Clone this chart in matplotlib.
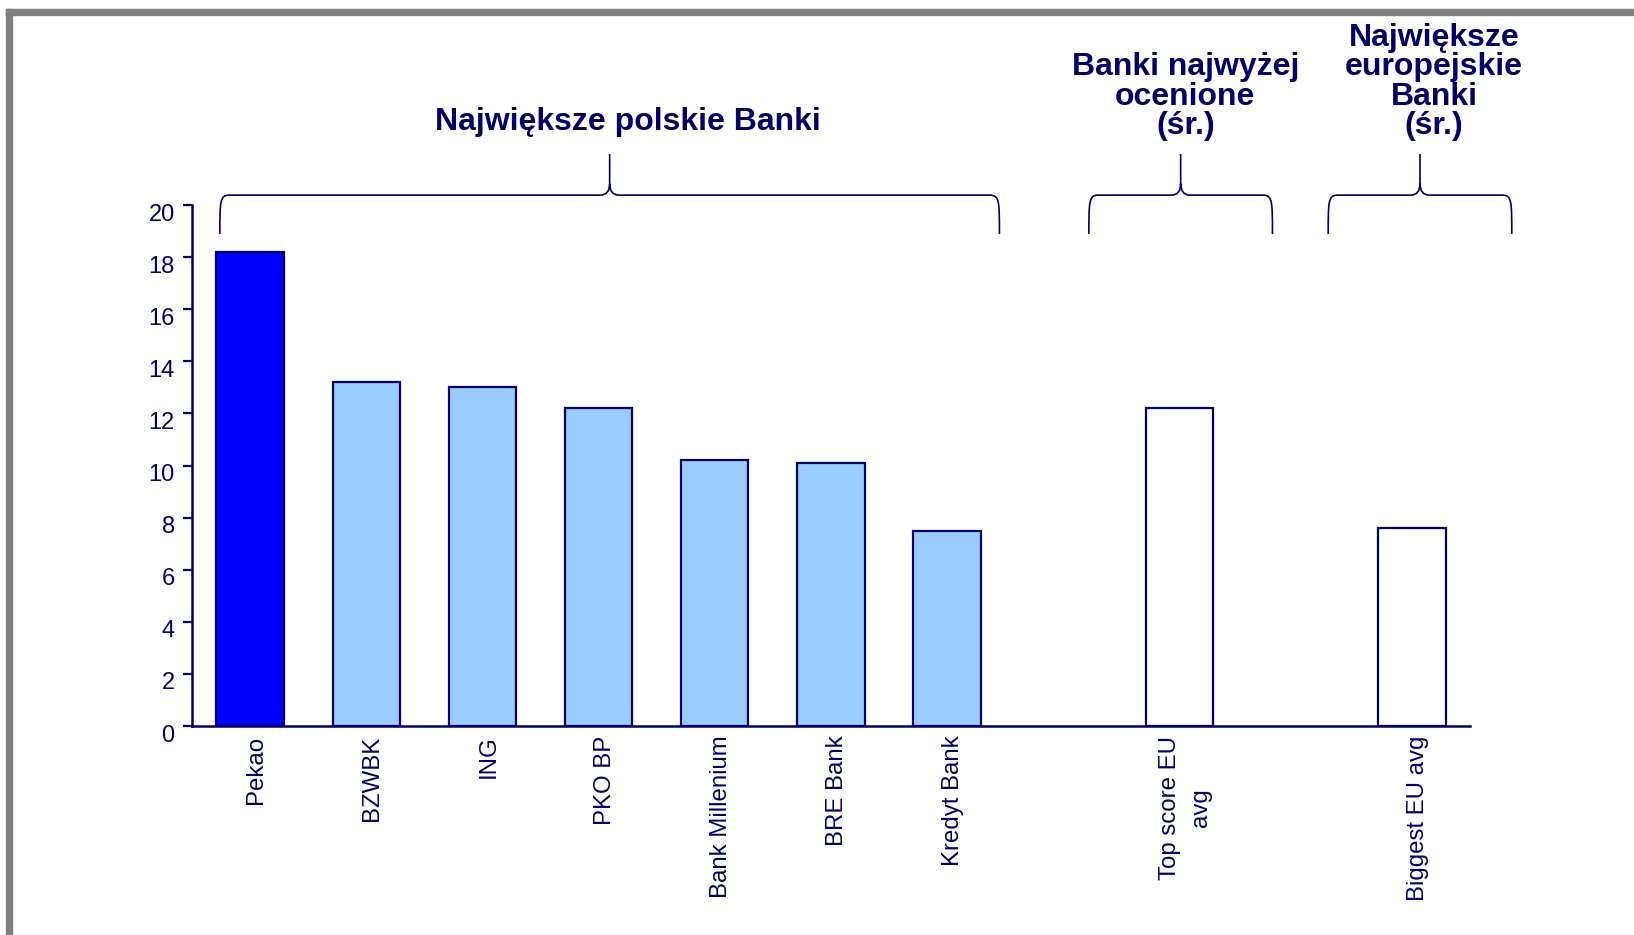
import matplotlib
matplotlib.use("Agg")
import matplotlib.pyplot as plt
from matplotlib.path import Path
from matplotlib.patches import PathPatch, Rectangle
import matplotlib.transforms as mtransforms

plt.rcParams['font.family'] = ['Liberation Sans', 'DejaVu Sans']

# ---- data ----
categories = ["Pekao", "BZWBK", "ING", "PKO BP", "Bank Millenium", "BRE Bank",
              "Kredyt Bank", "Top score EU\navg", "Biggest EU avg"]
values = [18.2, 13.2, 13.0, 12.2, 10.2, 10.1, 7.5, 12.2, 7.6]
positions = [0, 1, 2, 3, 4, 5, 6, 8, 10]
bar_colors = ["#0000FF"] + ["#99CCFF"] * 6 + ["#FFFFFF"] * 2
yticks = [0, 2, 4, 6, 8, 10, 12, 14, 16, 18, 20]

group_titles = ["Największe polskie Banki",
                "Banki najwyżej\nocenione\n(śr.)",
                "Największe\neuropejskie\nBanki\n(śr.)"]
group_first = [0, 7, 8]   # index into categories
group_last = [6, 7, 8]

NAVY = "#000066"

fig = plt.figure(figsize=(16.34, 9.35), dpi=100)
ax = fig.add_axes([0.1175, 0.2235, 0.7821, 0.5572])

ax.bar(positions, values, width=0.58, color=bar_colors, edgecolor=NAVY,
       linewidth=1.6, zorder=3)

ax.set_xlim(-0.5, 10.5)
ax.set_ylim(0, 20)
ax.set_yticks(yticks)
ax.set_yticklabels([str(t) for t in yticks])
ax.set_xticks(positions)
ax.set_xticklabels(categories, rotation=90, fontsize=17.3, color=NAVY,
                   ha='center', va='top', linespacing=1.55)
ax.tick_params(axis='x', length=0, pad=7)
ax.tick_params(axis='y', length=6.5, width=1.6, color=NAVY, labelsize=17,
               labelcolor=NAVY, pad=6)
for s in ['top', 'right']:
    ax.spines[s].set_visible(False)
for s in ['left', 'bottom']:
    ax.spines[s].set_color(NAVY)
    ax.spines[s].set_linewidth(1.8)

yoff = mtransforms.ScaledTranslation(0, -7 / 100, fig.dpi_scale_trans)
for lab in ax.get_yticklabels():
    lab.set_transform(lab.get_transform() + yoff)
xoff = mtransforms.ScaledTranslation(6 / 100, 0, fig.dpi_scale_trans)
for lab in ax.get_xticklabels():
    lab.set_transform(lab.get_transform() + xoff)

# ---- braces ----
pads = [(0.26, 0.45), (0.78, 0.80), (0.72, 0.86)]
title_dx = [0.16, 0.04, 0.12]
title_y = [22.62, 22.45, 22.45]
y_end, y_h, y_top = 18.89, 20.38, 21.96
for i, title in enumerate(group_titles):
    xl = positions[group_first[i]] - pads[i][0]
    xr = positions[group_last[i]] + pads[i][1]
    xm = (xl + xr) / 2
    rx, ry = 0.08, 0.45
    verts = [(xl, y_end), (xl, y_h - 0.25), (xl, y_h), (xl + rx, y_h),
             (xm - rx, y_h), (xm, y_h), (xm, y_h + ry), (xm, y_top),
             (xm, y_h + ry), (xm, y_h), (xm + rx, y_h),
             (xr - rx, y_h), (xr, y_h), (xr, y_h - 0.25), (xr, y_end)]
    codes = [Path.MOVETO, Path.CURVE4, Path.CURVE4, Path.CURVE4,
             Path.LINETO, Path.CURVE3, Path.CURVE3, Path.LINETO,
             Path.MOVETO, Path.CURVE3, Path.CURVE3,
             Path.LINETO, Path.CURVE4, Path.CURVE4, Path.CURVE4]
    ax.add_patch(PathPatch(Path(verts, codes), facecolor='none',
                           edgecolor=NAVY, lw=1.2, clip_on=False))
    ax.text(xm + title_dx[i], title_y[i], title, ha='center', va='bottom',
            fontsize=23, fontweight='bold', color=NAVY, linespacing=0.98,
            multialignment='center', clip_on=False)

# ---- grey frame ----
fig.patches.append(Rectangle((6 / 1634, 1 - 15 / 935), 1, 6 / 935,
                             transform=fig.transFigure, color='#808080',
                             zorder=0))
fig.patches.append(Rectangle((6 / 1634, 0), 6 / 1634, 1 - 9 / 935,
                             transform=fig.transFigure, color='#808080',
                             zorder=0))

fig.savefig("out.png", dpi=100)
